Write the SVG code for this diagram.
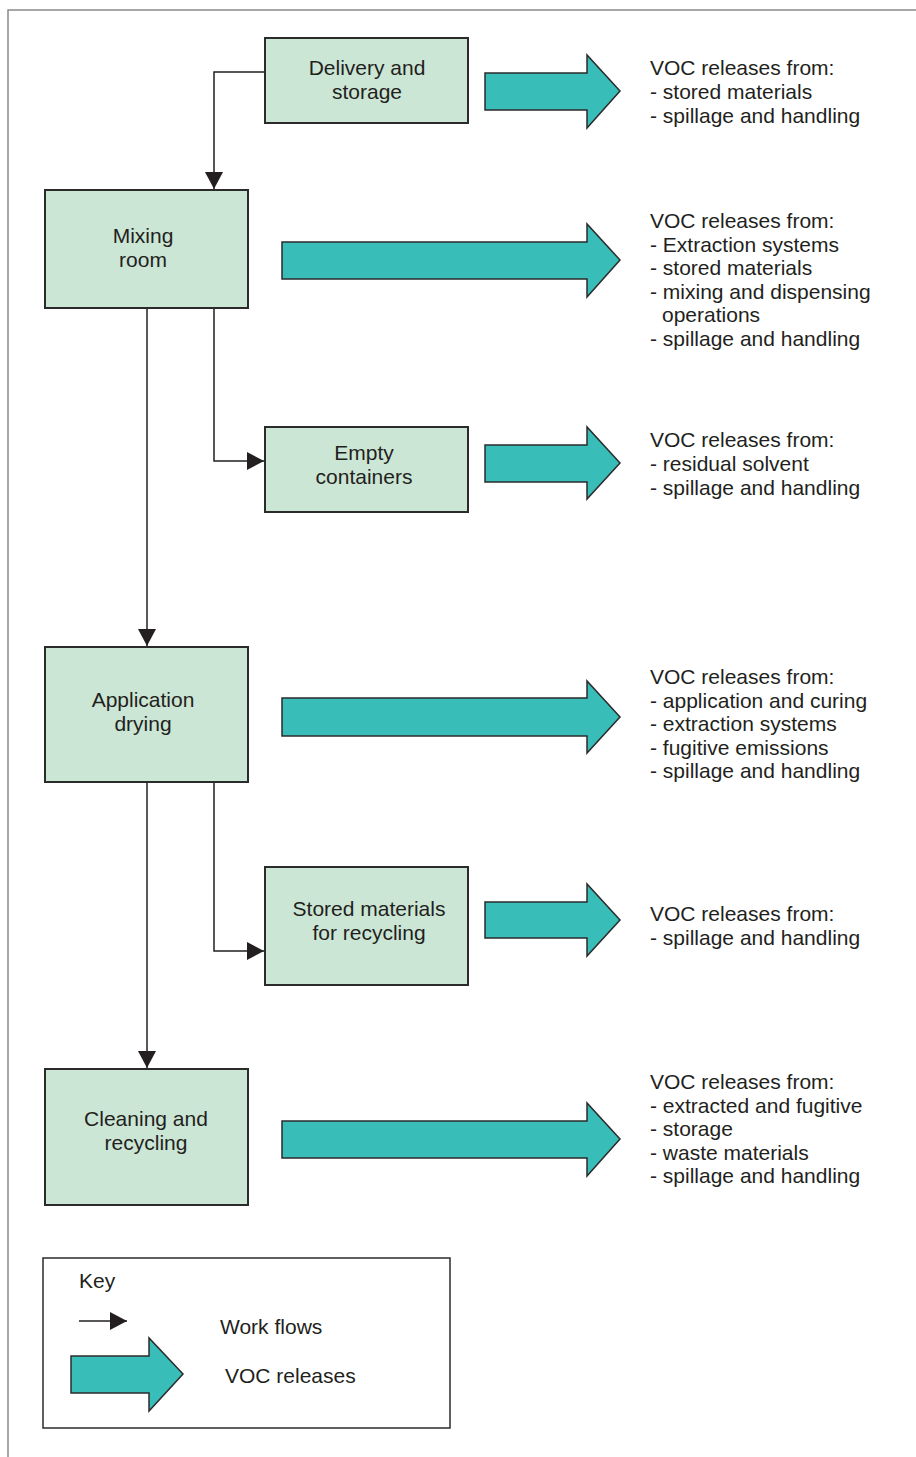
<svg xmlns="http://www.w3.org/2000/svg" width="916" height="1457" viewBox="0 0 916 1457">
<style>
.frame{fill:none;stroke:#8a8a8a;stroke-width:1.5}
.box{fill:#cce6d5;stroke:#2b2b2b;stroke-width:2}
.rel{fill:#38bdb9;stroke:#2b2b2b;stroke-width:1.5;stroke-linejoin:miter}
.flow{fill:none;stroke:#231f20;stroke-width:1.5}
.t{font-family:"Liberation Sans",Arial,sans-serif;font-size:21px;fill:#231f20}
.c{text-anchor:middle}
.key{fill:#fff;stroke:#2b2b2b;stroke-width:1.5}
</style>
<defs>
<marker id="ah" viewBox="0 0 17 18" refX="17" refY="9" markerWidth="17" markerHeight="18" markerUnits="userSpaceOnUse" orient="auto">
<path d="M0,0 L17,9 L0,18 Z" fill="#231f20"/>
</marker>
</defs>
<rect width="916" height="1457" fill="#fff"/>
<path class="frame" d="M8,1457 V10 H916"/>

<g id="connectors">
<path class="flow" d="M265,72 H214 V189" marker-end="url(#ah)"/>
<path class="flow" d="M147,309 V646" marker-end="url(#ah)"/>
<path class="flow" d="M214,309 V461 H264" marker-end="url(#ah)"/>
<path class="flow" d="M147,782 V1068" marker-end="url(#ah)"/>
<path class="flow" d="M214,782 V951 H264" marker-end="url(#ah)"/>
</g>

<g id="node-delivery">
<rect class="box" x="265" y="38" width="203" height="85"/>
<text class="t c" x="367" y="75">Delivery and</text>
<text class="t c" x="367" y="99">storage</text>
</g>
<g id="node-mixing">
<rect class="box" x="45" y="190" width="203" height="118"/>
<text class="t c" x="143" y="243">Mixing</text>
<text class="t c" x="143" y="267">room</text>
</g>
<g id="node-empty">
<rect class="box" x="265" y="427" width="203" height="85"/>
<text class="t c" x="364" y="460">Empty</text>
<text class="t c" x="364" y="484">containers</text>
</g>
<g id="node-application">
<rect class="box" x="45" y="647" width="203" height="135"/>
<text class="t c" x="143" y="707">Application</text>
<text class="t c" x="143" y="731">drying</text>
</g>
<g id="node-stored">
<rect class="box" x="265" y="867" width="203" height="118"/>
<text class="t c" x="369" y="916">Stored materials</text>
<text class="t c" x="369" y="940">for recycling</text>
</g>
<g id="node-cleaning">
<rect class="box" x="45" y="1069" width="203" height="136"/>
<text class="t c" x="146" y="1126">Cleaning and</text>
<text class="t c" x="146" y="1150">recycling</text>
</g>

<g id="release-1">
<path class="rel" d="M485,73 H587 V55 L620,91 L587,128 V110 H485 Z"/>
<text class="t" x="650" y="75">VOC releases from:</text>
<text class="t" x="650" y="99">- stored materials</text>
<text class="t" x="650" y="123">- spillage and handling</text>
</g>
<g id="release-2">
<path class="rel" d="M282,242 H587 V224 L620,260 L587,297 V279 H282 Z"/>
<text class="t" x="650" y="228">VOC releases from:</text>
<text class="t" x="650" y="251.5">- Extraction systems</text>
<text class="t" x="650" y="275">- stored materials</text>
<text class="t" x="650" y="298.5">- mixing and dispensing</text>
<text class="t" x="662" y="322">operations</text>
<text class="t" x="650" y="345.5">- spillage and handling</text>
</g>
<g id="release-3">
<path class="rel" d="M485,445 H587 V427 L620,463 L587,499 V482 H485 Z"/>
<text class="t" x="650" y="447">VOC releases from:</text>
<text class="t" x="650" y="471">- residual solvent</text>
<text class="t" x="650" y="495">- spillage and handling</text>
</g>
<g id="release-4">
<path class="rel" d="M282,698 H587 V681 L620,717 L587,753 V736 H282 Z"/>
<text class="t" x="650" y="684">VOC releases from:</text>
<text class="t" x="650" y="707.5">- application and curing</text>
<text class="t" x="650" y="731">- extraction systems</text>
<text class="t" x="650" y="754.5">- fugitive emissions</text>
<text class="t" x="650" y="778">- spillage and handling</text>
</g>
<g id="release-5">
<path class="rel" d="M485,902 H587 V884 L620,920 L587,956 V938 H485 Z"/>
<text class="t" x="650" y="921">VOC releases from:</text>
<text class="t" x="650" y="945">- spillage and handling</text>
</g>
<g id="release-6">
<path class="rel" d="M282,1121 H587 V1103 L620,1139 L587,1176 V1158 H282 Z"/>
<text class="t" x="650" y="1089">VOC releases from:</text>
<text class="t" x="650" y="1112.5">- extracted and fugitive</text>
<text class="t" x="650" y="1136">- storage</text>
<text class="t" x="650" y="1159.5">- waste materials</text>
<text class="t" x="650" y="1183">- spillage and handling</text>
</g>

<g id="key">
<rect class="key" x="43" y="1258" width="407" height="170"/>
<text class="t" x="79" y="1288">Key</text>
<path class="flow" d="M79,1321 H127" marker-end="url(#ah)"/>
<text class="t" x="220" y="1334">Work flows</text>
<path class="rel" d="M71,1356 H149 V1338 L183,1374 L149,1411 V1393 H71 Z"/>
<text class="t" x="225" y="1383">VOC releases</text>
</g>
</svg>
